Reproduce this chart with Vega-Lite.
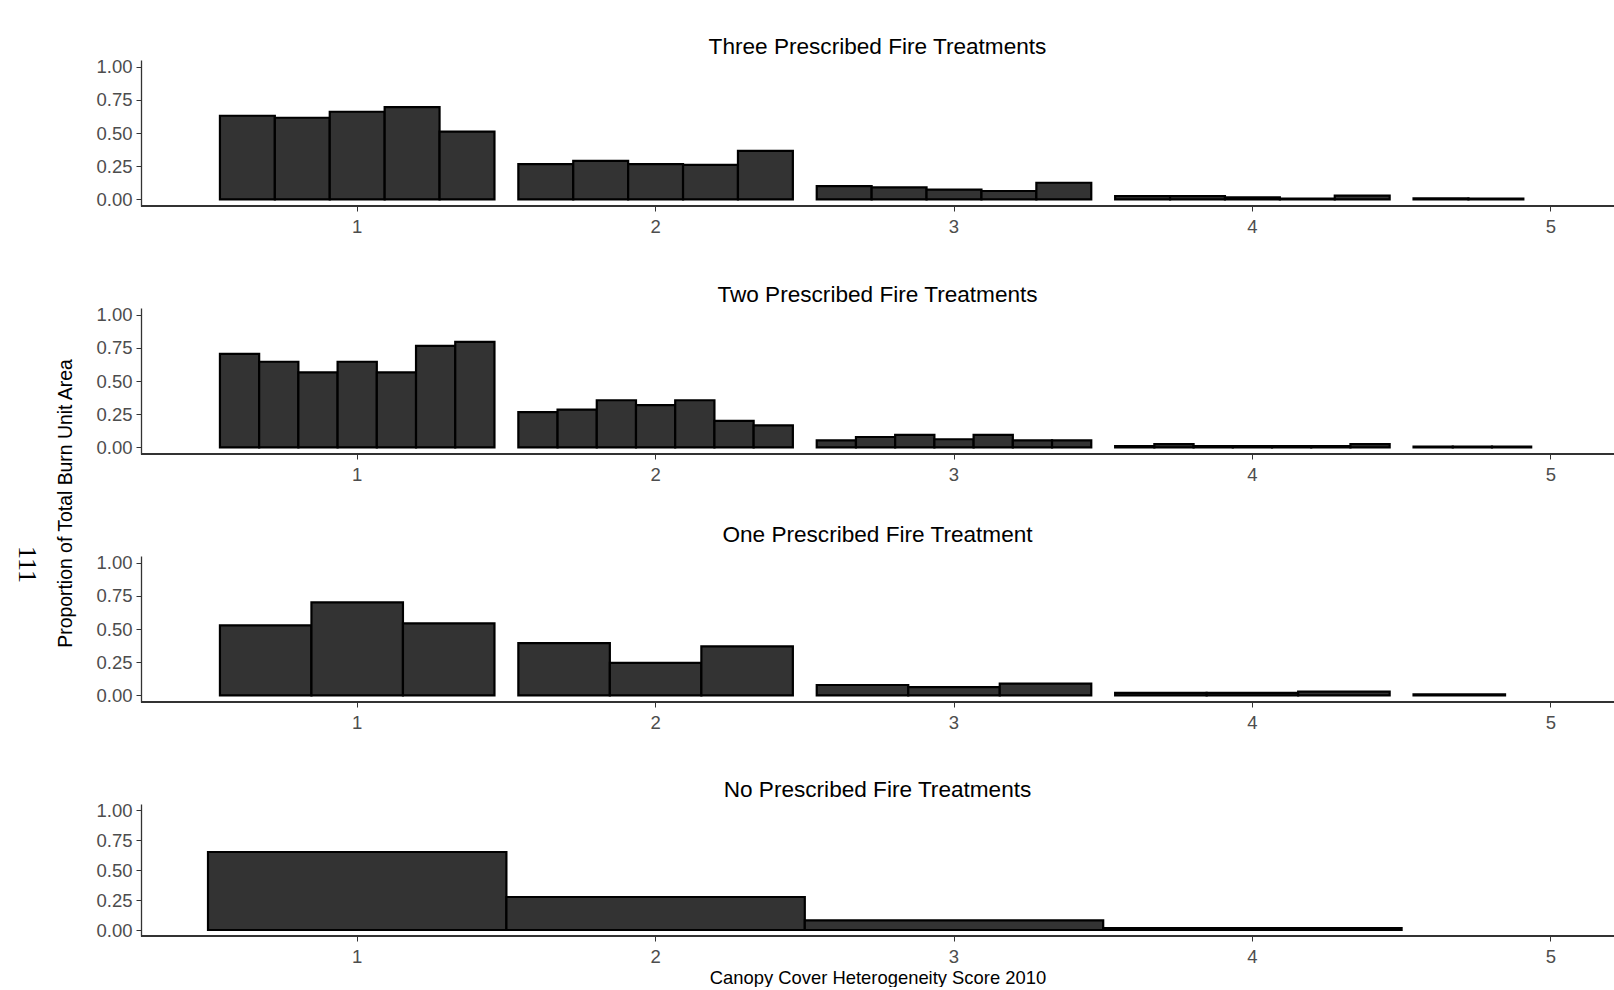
{
  "$schema": "https://vega.github.io/schema/vega-lite/v6.json",
  "background": "white",
  "autosize": {"type": "pad"},
  "padding": {"left": 13, "top": 36, "right": 0, "bottom": 0},
  "bounds": "flush",
  "spacing": 102,
  "resolve": {"scale": {"x": "independent", "xOffset": "independent", "y": "independent"}},
  "config": {
    "font": "Liberation Sans",
    "view": {"stroke": null},
    "title": {"fontSize": 22.6, "fontWeight": "normal", "color": "black", "anchor": "middle", "offset": -1, "baseline": "alphabetic"},
    "axis": {"grid": false, "labelFontSize": 18.5, "labelColor": "#4d4d4d", "labelOverlap": false, "labelSeparation": 0, "tickColor": "#333333", "tickSize": 5, "domainColor": "#333333", "domainWidth": 1.3, "titleFontWeight": "normal", "titleColor": "black", "titleFontSize": 18.4},
    "bar": {"fill": "#333333", "stroke": "black", "strokeWidth": 2.2}
  },
  "datasets": {
    "three": [
      {"score": 1, "unit": "1", "value": 0.63}, {"score": 1, "unit": "2", "value": 0.615}, {"score": 1, "unit": "3", "value": 0.66}, {"score": 1, "unit": "4", "value": 0.695}, {"score": 1, "unit": "5", "value": 0.51},
      {"score": 2, "unit": "1", "value": 0.265}, {"score": 2, "unit": "2", "value": 0.29}, {"score": 2, "unit": "3", "value": 0.265}, {"score": 2, "unit": "4", "value": 0.26}, {"score": 2, "unit": "5", "value": 0.365},
      {"score": 3, "unit": "1", "value": 0.1}, {"score": 3, "unit": "2", "value": 0.09}, {"score": 3, "unit": "3", "value": 0.073}, {"score": 3, "unit": "4", "value": 0.063}, {"score": 3, "unit": "5", "value": 0.125},
      {"score": 4, "unit": "1", "value": 0.025}, {"score": 4, "unit": "2", "value": 0.025}, {"score": 4, "unit": "3", "value": 0.015}, {"score": 4, "unit": "4", "value": 0.005}, {"score": 4, "unit": "5", "value": 0.028},
      {"score": 5, "unit": "1", "value": 0.008}, {"score": 5, "unit": "2", "value": 0.006}
    ],
    "two": [
      {"score": 1, "unit": "1", "value": 0.705}, {"score": 1, "unit": "2", "value": 0.645}, {"score": 1, "unit": "3", "value": 0.565}, {"score": 1, "unit": "4", "value": 0.645}, {"score": 1, "unit": "5", "value": 0.565}, {"score": 1, "unit": "6", "value": 0.765}, {"score": 1, "unit": "7", "value": 0.795},
      {"score": 2, "unit": "1", "value": 0.265}, {"score": 2, "unit": "2", "value": 0.285}, {"score": 2, "unit": "3", "value": 0.355}, {"score": 2, "unit": "4", "value": 0.318}, {"score": 2, "unit": "5", "value": 0.355}, {"score": 2, "unit": "6", "value": 0.2}, {"score": 2, "unit": "7", "value": 0.165},
      {"score": 3, "unit": "1", "value": 0.052}, {"score": 3, "unit": "2", "value": 0.078}, {"score": 3, "unit": "3", "value": 0.094}, {"score": 3, "unit": "4", "value": 0.061}, {"score": 3, "unit": "5", "value": 0.094}, {"score": 3, "unit": "6", "value": 0.052}, {"score": 3, "unit": "7", "value": 0.052},
      {"score": 4, "unit": "1", "value": 0.01}, {"score": 4, "unit": "2", "value": 0.025}, {"score": 4, "unit": "3", "value": 0.01}, {"score": 4, "unit": "4", "value": 0.01}, {"score": 4, "unit": "5", "value": 0.01}, {"score": 4, "unit": "6", "value": 0.01}, {"score": 4, "unit": "7", "value": 0.025},
      {"score": 5, "unit": "1", "value": 0.005}, {"score": 5, "unit": "2", "value": 0.005}, {"score": 5, "unit": "3", "value": 0.005}
    ],
    "one": [
      {"score": 1, "unit": "1", "value": 0.528}, {"score": 1, "unit": "2", "value": 0.7}, {"score": 1, "unit": "3", "value": 0.543},
      {"score": 2, "unit": "1", "value": 0.394}, {"score": 2, "unit": "2", "value": 0.245}, {"score": 2, "unit": "3", "value": 0.369},
      {"score": 3, "unit": "1", "value": 0.078}, {"score": 3, "unit": "2", "value": 0.062}, {"score": 3, "unit": "3", "value": 0.088},
      {"score": 4, "unit": "1", "value": 0.018}, {"score": 4, "unit": "2", "value": 0.018}, {"score": 4, "unit": "3", "value": 0.028},
      {"score": 5, "unit": "1", "value": 0.007}
    ],
    "none": [
      {"score": 1, "unit": "1", "value": 0.65},
      {"score": 2, "unit": "1", "value": 0.275},
      {"score": 3, "unit": "1", "value": 0.08},
      {"score": 4, "unit": "1", "value": 0.015}
    ]
  },
  "vconcat": [
    {
      "data": {"name": "three"},
      "width": 1473, "height": 146,
      "title": "Three Prescribed Fire Treatments",
      "layer": [
        {
          "mark": "bar",
          "encoding": {
            "x": {"field": "score", "type": "nominal", "scale": {"domain": [1, 2, 3, 4, 5], "range": [67, 1559], "paddingInner": 0.08, "paddingOuter": 0.04}, "axis": {"title": null, "domain": false, "labelAngle": 0, "labelPadding": 6}},
            "xOffset": {"field": "unit", "type": "nominal", "scale": {"domain": ["1", "2", "3", "4", "5"]}},
            "y": {"field": "value", "type": "quantitative", "scale": {"domain": [-0.05, 1.05], "nice": false, "zero": false}, "axis": {"title": null, "values": [0, 0.25, 0.5, 0.75, 1], "format": ".2f", "labelPadding": 4, "labelOverlap": false}}
          }
        },
        {"mark": {"type": "rule", "color": "#333333", "strokeWidth": 1.3}, "encoding": {"y": {"datum": -0.05, "type": "quantitative", "axis": {"title": null, "values": [0, 0.25, 0.5, 0.75, 1], "format": ".2f", "labelPadding": 4, "labelOverlap": false}}}}
      ]
    },
    {
      "data": {"name": "two"},
      "width": 1473, "height": 146,
      "title": "Two Prescribed Fire Treatments",
      "layer": [
        {
          "mark": "bar",
          "encoding": {
            "x": {"field": "score", "type": "nominal", "scale": {"domain": [1, 2, 3, 4, 5], "range": [67, 1559], "paddingInner": 0.08, "paddingOuter": 0.04}, "axis": {"title": null, "domain": false, "labelAngle": 0, "labelPadding": 6}},
            "xOffset": {"field": "unit", "type": "nominal", "scale": {"domain": ["1", "2", "3", "4", "5", "6", "7"]}},
            "y": {"field": "value", "type": "quantitative", "scale": {"domain": [-0.05, 1.05], "nice": false, "zero": false}, "axis": {"title": "Proportion of Total Burn Unit Area", "titleAngle": 270, "titleX": -76, "titleY": 195, "titleAlign": "center", "titleBaseline": "middle", "titleFontSize": 19.4, "values": [0, 0.25, 0.5, 0.75, 1], "format": ".2f", "labelPadding": 4, "labelOverlap": false}}
          }
        },
        {"mark": {"type": "rule", "color": "#333333", "strokeWidth": 1.3}, "encoding": {"y": {"datum": -0.05, "type": "quantitative", "axis": {"title": "Proportion of Total Burn Unit Area", "titleAngle": 270, "titleX": -76, "titleY": 195, "titleAlign": "center", "titleBaseline": "middle", "titleFontSize": 19.4, "values": [0, 0.25, 0.5, 0.75, 1], "format": ".2f", "labelPadding": 4, "labelOverlap": false}}}}
      ]
    },
    {
      "data": {"name": "one"},
      "width": 1473, "height": 146,
      "title": "One Prescribed Fire Treatment",
      "layer": [
        {
          "mark": "bar",
          "encoding": {
            "x": {"field": "score", "type": "nominal", "scale": {"domain": [1, 2, 3, 4, 5], "range": [67, 1559], "paddingInner": 0.08, "paddingOuter": 0.04}, "axis": {"title": null, "domain": false, "labelAngle": 0, "labelPadding": 6}},
            "xOffset": {"field": "unit", "type": "nominal", "scale": {"domain": ["1", "2", "3"]}},
            "y": {"field": "value", "type": "quantitative", "scale": {"domain": [-0.05, 1.05], "nice": false, "zero": false}, "axis": {"title": "111", "titleFont": "Liberation Serif", "titleFontSize": 26, "titleAngle": 90, "titleX": -115, "titleY": 8, "titleAlign": "center", "titleBaseline": "middle", "values": [0, 0.25, 0.5, 0.75, 1], "format": ".2f", "labelPadding": 4, "labelOverlap": false}}
          }
        },
        {"mark": {"type": "rule", "color": "#333333", "strokeWidth": 1.3}, "encoding": {"y": {"datum": -0.05, "type": "quantitative", "axis": {"title": "111", "titleFont": "Liberation Serif", "titleFontSize": 26, "titleAngle": 90, "titleX": -115, "titleY": 8, "titleAlign": "center", "titleBaseline": "middle", "values": [0, 0.25, 0.5, 0.75, 1], "format": ".2f", "labelPadding": 4, "labelOverlap": false}}}}
      ]
    },
    {
      "data": {"name": "none"},
      "width": 1473, "height": 132,
      "title": "No Prescribed Fire Treatments",
      "layer": [
        {
          "mark": "bar",
          "encoding": {
            "x": {"field": "score", "type": "nominal", "scale": {"domain": [1, 2, 3, 4, 5], "range": [67, 1559], "paddingInner": 0, "paddingOuter": 0}, "axis": {"title": "Canopy Cover Heterogeneity Score 2010", "titleX": 736.5, "titlePadding": 3, "domain": false, "labelAngle": 0, "labelPadding": 6}},
            "xOffset": {"field": "unit", "type": "nominal", "scale": {"domain": ["1"]}},
            "y": {"field": "value", "type": "quantitative", "scale": {"domain": [-0.05, 1.05], "nice": false, "zero": false}, "axis": {"title": null, "values": [0, 0.25, 0.5, 0.75, 1], "format": ".2f", "labelPadding": 4, "labelOverlap": false}}
          }
        },
        {"mark": {"type": "rule", "color": "#333333", "strokeWidth": 1.3}, "encoding": {"y": {"datum": -0.05, "type": "quantitative", "axis": {"title": null, "values": [0, 0.25, 0.5, 0.75, 1], "format": ".2f", "labelPadding": 4, "labelOverlap": false}}}}
      ]
    }
  ]
}
